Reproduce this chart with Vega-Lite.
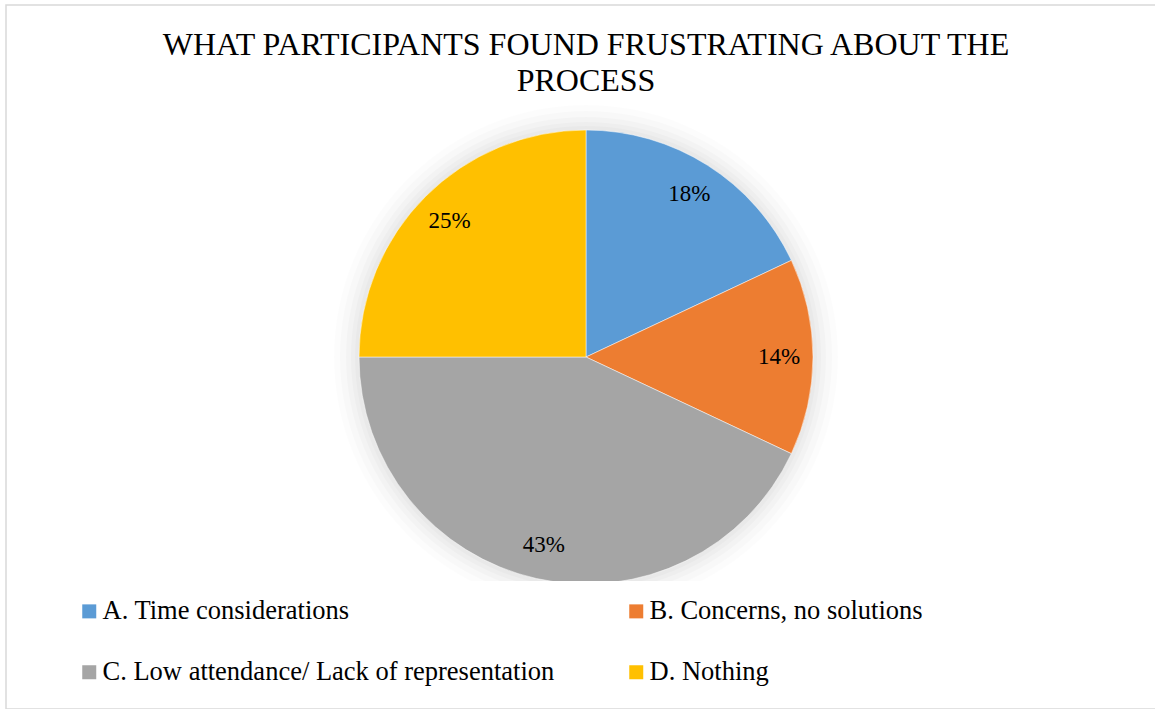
{
  "$schema": "https://vega.github.io/schema/vega-lite/v6.json",
  "autosize": {"type": "none"},
  "padding": {"left": 6, "top": 5, "right": 0, "bottom": 0},
  "width": 1160,
  "height": 704,
  "background": "white",
  "view": {"stroke": "#d9d9d9", "strokeWidth": 1.5},
  "config": {
    "font": "Liberation Serif"
  },
  "title": {
    "text": ["WHAT PARTICIPANTS FOUND FRUSTRATING ABOUT THE", "PROCESS"],
    "font": "Liberation Serif",
    "fontSize": 32,
    "fontWeight": "normal",
    "color": "black",
    "lineHeight": 36,
    "anchor": "middle",
    "baseline": "bottom",
    "offset": -125
  },
  "data": {
    "values": [
      {"category": "A. Time considerations", "value": 18, "label": "18%"},
      {"category": "B. Concerns, no solutions", "value": 14, "label": "14%"},
      {"category": "C. Low attendance/ Lack of representation", "value": 43, "label": "43%"},
      {"category": "D. Nothing", "value": 25, "label": "25%"}
    ]
  },
  "layer": [
    {
      "transform": [{"aggregate": [{"op": "count", "as": "n"}]}],
      "layer": [
        {"mark": {"type": "arc", "theta": 0, "theta2": 6.2832, "radius": 252, "fill": "black", "opacity": 0.012}, "encoding": {}},
        {"mark": {"type": "arc", "theta": 0, "theta2": 6.2832, "radius": 246, "fill": "black", "opacity": 0.015}, "encoding": {}},
        {"mark": {"type": "arc", "theta": 0, "theta2": 6.2832, "radius": 240, "fill": "black", "opacity": 0.018}, "encoding": {}},
        {"mark": {"type": "arc", "theta": 0, "theta2": 6.2832, "radius": 235, "fill": "black", "opacity": 0.02}, "encoding": {}},
        {"mark": {"type": "arc", "theta": 0, "theta2": 6.2832, "radius": 231, "fill": "black", "opacity": 0.02}, "encoding": {}}
      ]
    },
    {
      "mark": {"type": "arc", "radius": 227, "stroke": "white", "strokeWidth": 0.5},
      "encoding": {
        "theta": {"field": "value", "type": "quantitative", "stack": true},
        "order": {"field": "category", "sort": "ascending"},
        "color": {
          "field": "category",
          "type": "nominal",
          "scale": {
            "domain": ["A. Time considerations", "B. Concerns, no solutions", "C. Low attendance/ Lack of representation", "D. Nothing"],
            "range": ["#5B9BD5", "#ED7D31", "#A5A5A5", "#FFC000"]
          },
          "legend": {
            "title": null,
            "orient": "none",
            "legendX": 53,
            "legendY": 576,
            "columns": 2,
            "direction": "horizontal",
            "columnPadding": 68,
            "rowPadding": 34,
            "padding": 17,
            "fillColor": "white",
            "symbolType": "square",
            "symbolSize": 196,
            "symbolStrokeWidth": 0,
            "symbolOpacity": 1,
            "labelFont": "Liberation Serif",
            "labelFontSize": 26.5,
            "labelColor": "black",
            "labelOffset": 0,
            "labelLimit": 700
          }
        }
      }
    },
    {
      "mark": {"type": "text", "radius": 193, "font": "Liberation Serif", "fontSize": 23, "color": "black"},
      "encoding": {
        "theta": {"field": "value", "type": "quantitative", "stack": true},
        "order": {"field": "category", "sort": "ascending"},
        "text": {"field": "label", "type": "nominal"}
      }
    }
  ]
}
